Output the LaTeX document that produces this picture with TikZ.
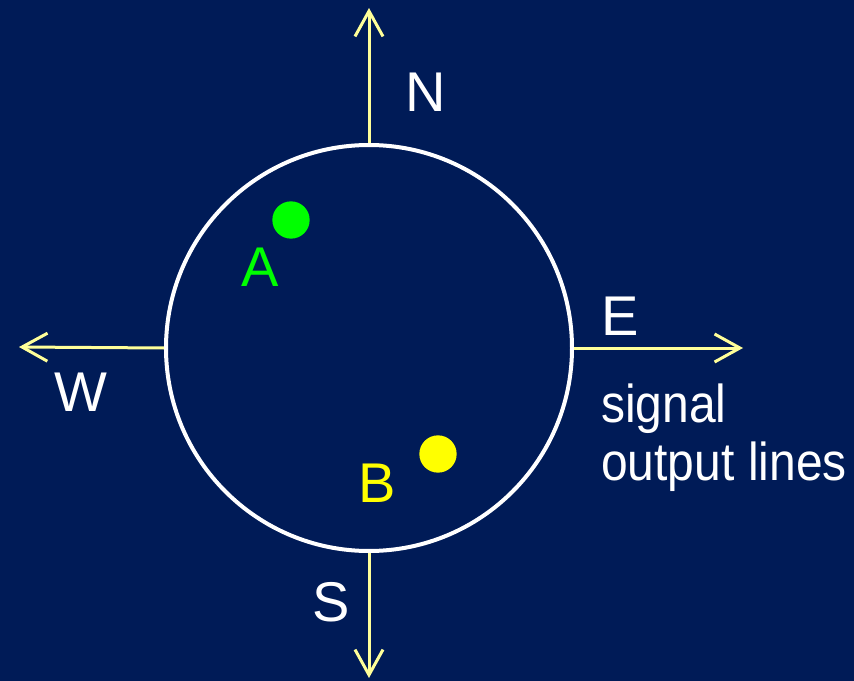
\documentclass[tikz,border=0pt]{standalone}
\usepackage{fontspec}
\setmainfont{Liberation Sans}
\newfontfamily\narrowsans[FakeStretch=0.9]{Liberation Sans}
\usetikzlibrary{arrows.meta, positioning}
\definecolor{navy}{RGB}{0,27,87}
\definecolor{lineyellow}{RGB}{255,255,153}
\definecolor{dotgreen}{RGB}{0,255,0}
\definecolor{dotyellow}{RGB}{255,255,0}

\begin{document}
\begin{tikzpicture}[
  x=0.75pt, y=-0.75pt,
  dial/.style  = {circle, draw=white, line width=3pt, inner sep=0pt,
                  minimum size=304.5pt},
  dot/.style   = {circle, inner sep=0pt, minimum size=28pt},
  dir/.style   = {text=white, inner sep=0pt, font=\fontsize{42}{50}\selectfont},
  sig/.style   = {text=white, inner sep=0pt, anchor=base west,
                  font=\narrowsans\fontsize{40}{48}\selectfont},
  outarr/.style= {line width=2.25pt, lineyellow,
                  -{Straight Barb[length=19pt, width=21pt, line width=2.25pt]}}
]
\fill[navy] (0,0) rectangle (854,681);
\useasboundingbox (0,0) rectangle (854,681);

\node[dial] (dial) at (369,348) {};

\coordinate (tipN) at (369,8);
\coordinate (tipS) at (369,678);
\coordinate (tipW) at (19,347);
\coordinate (tipE) at (743,348);

\draw[outarr] (dial.north) -- (tipN);
\draw[outarr] (dial.south) -- (tipS);
\draw[outarr] (dial.west)  -- (tipW);
\draw[outarr] (dial.east)  -- (tipE);

\node[dir] (labN) at (426,92)  {N};
\node[dir] (labE) at (620,316) {E};
\node[dir] (labW) at (81,392)  {W};
\node[dir] (labS) at (331,602) {S};

\node[sig] (signal) at (601,422) {signal};
\node[sig] (output) at (601,480) {output lines};

\node[dot, fill=dotgreen]  (dotA) at (291,220) {};
\node[dot, fill=dotyellow] (dotB) at (438,454) {};
\node[dir, text=dotgreen]  (labA) at (260,267) {A};
\node[dir, text=dotyellow] (labB) at (377,483) {B};
\end{tikzpicture}
\end{document}
